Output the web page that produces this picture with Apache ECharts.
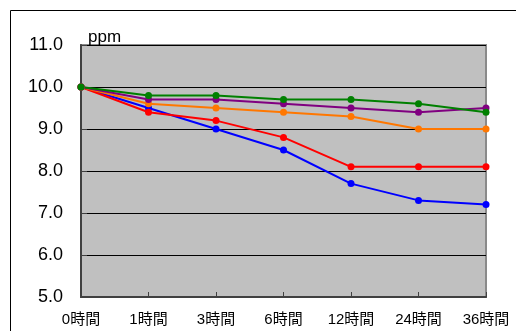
<!DOCTYPE html>
<html>
<head>
<meta charset="utf-8">
<style>
  html, body { margin: 0; padding: 0; background: #ffffff; }
  #chart { width: 516px; height: 331px; }
</style>
<script src="https://cdn.jsdelivr.net/npm/echarts@6/dist/echarts.min.js"></script>
</head>
<body>
<div id="chart"></div>
<script>
// Elapsed time categories
const categories = ['0時間', '1時間', '3時間', '6時間', '12時間', '24時間', '36時間'];

// Concentration readings (ppm) per series
const blueValues   = [10.0, 9.5, 9.0, 8.5, 7.7, 7.3, 7.2];
const redValues    = [10.0, 9.4, 9.2, 8.8, 8.1, 8.1, 8.1];
const orangeValues = [10.0, 9.6, 9.5, 9.4, 9.3, 9.0, 9.0];
const purpleValues = [10.0, 9.7, 9.7, 9.6, 9.5, 9.4, 9.5];
const greenValues  = [10.0, 9.8, 9.8, 9.7, 9.7, 9.6, 9.4];

const yTicks = [5, 6, 7, 8, 9, 10, 11];

const FONT = '"Liberation Sans", Arial, "Noto Sans CJK JP", sans-serif';

function lineSeries(data, color) {
  return {
    type: 'line',
    data: data,
    symbol: 'circle',
    symbolSize: 7,
    lineStyle: { color: color, width: 2 },
    itemStyle: { color: color },
    animation: false
  };
}

const chart = echarts.init(document.getElementById('chart'), null, { renderer: 'canvas' });
chart.setOption({
  animation: false,
  backgroundColor: '#ffffff',
  grid: {
    left: 81, right: 30, top: 45, bottom: 34,
    show: true,
    backgroundColor: '#c0c0c0',
    borderColor: '#8a8a8a',
    borderWidth: 2
  },
  graphic: [
    {
      type: 'rect',
      shape: { x: 10.5, y: 10.5, width: 600, height: 400 },
      style: { fill: 'none', stroke: '#000000', lineWidth: 1 },
      silent: true
    },
    {
      type: 'text',
      left: 88, top: 29,
      style: { text: 'ppm', font: '17px ' + FONT, fill: '#000000' },
      silent: true
    }
  ],
  xAxis: {
    type: 'category',
    data: categories,
    boundaryGap: false,
    axisLine: { lineStyle: { color: '#404040', width: 2 } },
    axisTick: { inside: true, length: 5, lineStyle: { color: '#404040', width: 1 } },
    axisLabel: { color: '#000000', fontSize: 15, fontFamily: FONT, margin: 15 },
    splitLine: { show: false }
  },
  yAxis: {
    type: 'value',
    min: yTicks[0],
    max: yTicks[yTicks.length - 1],
    interval: 1,
    axisLine: { show: true, lineStyle: { color: '#404040', width: 2 } },
    axisTick: { show: true, inside: true, length: 6, lineStyle: { color: '#404040' } },
    axisLabel: {
      color: '#000000', fontSize: 18, fontFamily: FONT, margin: 18,
      formatter: v => v.toFixed(1)
    },
    splitLine: { show: true, lineStyle: { color: '#000000', width: 1 } }
  },
  series: [
    lineSeries(blueValues, '#0000ff'),
    lineSeries(redValues, '#ff0000'),
    lineSeries(orangeValues, '#ff7700'),
    lineSeries(purpleValues, '#800080'),
    lineSeries(greenValues, '#008000')
  ]
});
</script>
</body>
</html>
